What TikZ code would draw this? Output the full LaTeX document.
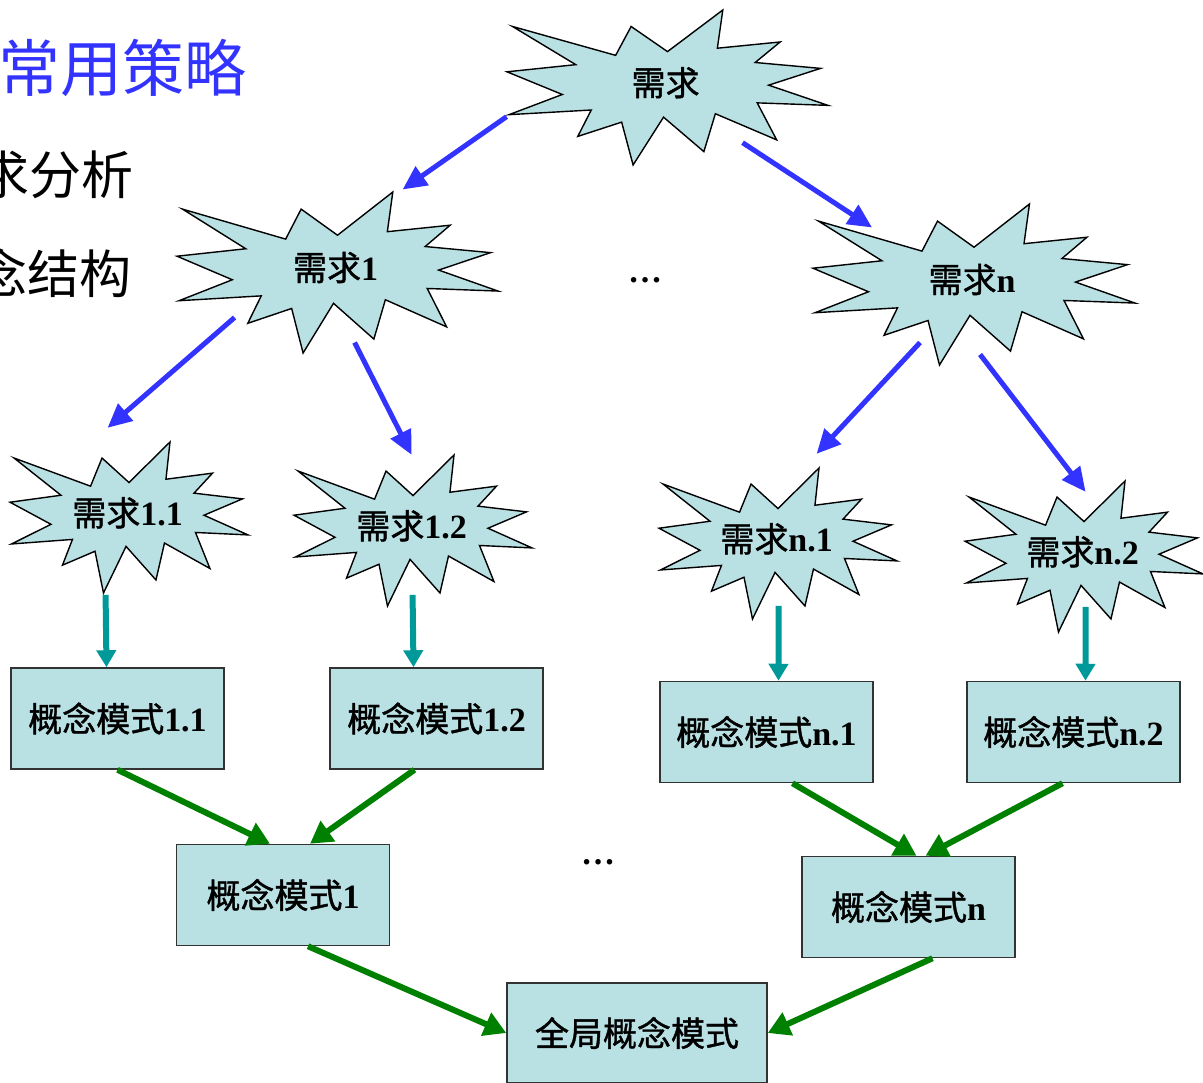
\documentclass[tikz,border=0pt]{standalone}
\usepackage{fontspec}
\setmainfont{Liberation Serif}
\newfontfamily\cjk{Noto Sans CJK SC}
\newfontfamily\cjkheavy[FakeBold=1.2]{Noto Sans CJK SC}
\usetikzlibrary{arrows.meta}

\definecolor{sealfill}{RGB}{185,224,227}
\definecolor{splitblue}{RGB}{51,51,255}
\definecolor{refineteal}{RGB}{0,153,153}
\definecolor{mergegreen}{RGB}{0,128,0}

% Chinese text followed by a bold number
\newcommand{\zhnum}[2]{{\cjkheavy #1}\textbf{#2}}

% explosion shape: name, left, top, width, height, text
\newcommand{\burstat}[6]{%
  \begin{scope}[shift={(#2,#3)},xscale=#4,yscale=#5]
    \draw[burst] (0.5,0.2685) -- (0.6723,0) -- (0.6553,0.2465) -- (0.8509,0.2063)
      -- (0.7732,0.3387) -- (0.9767,0.3767) -- (0.8151,0.4850) -- (1,0.6153)
      -- (0.7795,0.5992) -- (0.8400,0.8377) -- (0.6491,0.6693) -- (0.6133,0.9137)
      -- (0.4876,0.6914) -- (0.3928,1) -- (0.3572,0.7235) -- (0.2205,0.8156)
      -- (0.2624,0.6452) -- (0.0063,0.6753) -- (0.1723,0.5451) -- (0,0.3988)
      -- (0.2142,0.3526) -- (0.0171,0.1063) -- (0.3385,0.2926) -- (0.3867,0.1063) -- cycle;
  \end{scope}
  \node[sealtext] (#1) at ({#2+0.494*#4},{#3+0.469*#5}) {#6};%
}

\begin{document}
\begin{tikzpicture}[x=1pt,y=-1pt,
    burst/.style={draw=black,line width=1.4pt,fill=sealfill},
    sealtext/.style={inner sep=0pt,font=\fontsize{34}{40}\selectfont},
    modelbox/.style={draw=black!80,line width=1.5pt,fill=sealfill,inner sep=0pt,
      minimum width=213pt,minimum height=101pt,font=\fontsize{34}{40}\selectfont},
    split/.style={draw=splitblue,line width=5pt,-{Triangle[length=24pt,width=22pt]}},
    refine/.style={draw=refineteal,line width=6pt,-{Triangle[length=17pt,width=19pt]}},
    merge/.style={draw=mergegreen,line width=6pt,-{Triangle[length=22pt,width=24pt]}}]
    \useasboundingbox (0,0) rectangle (1203,1083);

    % Slide text on the left
    \node[anchor=east,inner sep=0pt,text=splitblue,font=\cjk\fontsize{62}{70}\selectfont] (title) at (247,68) {常用策略};
    \node[anchor=east,inner sep=0pt,font=\cjk\fontsize{52}{60}\selectfont] (item1) at (134,175) {求分析};
    \node[anchor=east,inner sep=0pt,font=\cjk\fontsize{52}{60}\selectfont] (item2) at (132,273) {念结构};

    % Requirements
    \burstat{req}{507}{10}{321}{155}{{\cjkheavy 需求}}
    \burstat{req1}{177}{192}{321}{161}{\zhnum{需求}{1}}
    \burstat{reqn}{813}{204}{322}{161}{\zhnum{需求}{n}}
    \burstat{req11}{10}{442}{238}{151}{\zhnum{需求}{1.1}}
    \burstat{req12}{294}{455}{238}{151}{\zhnum{需求}{1.2}}
    \burstat{reqn1}{659}{468}{238}{151}{\zhnum{需求}{n.1}}
    \burstat{reqn2}{965}{481}{238}{151}{\zhnum{需求}{n.2}}
    \node[font=\fontsize{34}{40}\selectfont\bfseries,inner sep=0pt] (dots1) at (645,280) {…};

    % Conceptual models
    \node[modelbox] (box11) at (117.5,718.5) {\zhnum{概念模式}{1.1}};
    \node[modelbox] (box12) at (436.5,718.5) {\zhnum{概念模式}{1.2}};
    \node[modelbox] (boxn1) at (766.5,732) {\zhnum{概念模式}{n.1}};
    \node[modelbox] (boxn2) at (1073.5,732) {\zhnum{概念模式}{n.2}};
    \node[modelbox] (box1) at (283,895) {\zhnum{概念模式}{1}};
    \node[modelbox] (boxn) at (908.5,907) {\zhnum{概念模式}{n}};
    \node[modelbox,minimum width=260pt,minimum height=100pt] (global) at (637,1033) {{\cjkheavy 全局概念模式}};
    \node[font=\fontsize{34}{40}\selectfont\bfseries,inner sep=0pt] (dots2) at (598,862) {…};

    % Splitting the requirements
    \draw[split] ([shift={(-159,34)}]req.center) -- ([shift={(67,-78)}]req1.center);
    \draw[split] ([shift={(77,60)}]req.center) -- ([shift={(-100,-52)}]reqn.center);
    \draw[split] ([shift={(-101,50)}]req1.center) -- ([shift={(-20,-85)}]req11.center);
    \draw[split] ([shift={(19,75)}]req1.center) -- ([shift={(0,-71)}]req12.center);
    \draw[split] ([shift={(-52,63)}]reqn.center) -- ([shift={(40,-85)}]reqn1.center);
    \draw[split] ([shift={(8,75)}]reqn.center) -- ([shift={(3,-60)}]reqn2.center);

    % Local models
    \draw[refine] ([shift={(-22,82)}]req11.center) -- ([shift={(-11,0)}]box11.north);
    \draw[refine] ([shift={(1,69)}]req12.center) -- ([shift={(-23,0)}]box12.north);
    \draw[refine] ([shift={(2,67)}]reqn1.center) -- ([shift={(12,0)}]boxn1.north);
    \draw[refine] ([shift={(3,55)}]reqn2.center) -- ([shift={(12,0)}]boxn2.north);

    % Merging the models
    \draw[merge] (box11.south) -- ([shift={(-13,0)}]box1.north);
    \draw[merge] ([shift={(-22,0)}]box12.south) -- ([shift={(27,0)}]box1.north);
    \draw[merge] ([shift={(26,0)}]boxn1.south) -- ([shift={(8,0)}]boxn.north);
    \draw[merge] ([shift={(-11,0)}]boxn2.south) -- ([shift={(17,0)}]boxn.north);
    \draw[merge] ([shift={(25,0)}]box1.south) -- (global.west);
    \draw[merge] ([shift={(24,0)}]boxn.south) -- (global.east);
\end{tikzpicture}
\end{document}
